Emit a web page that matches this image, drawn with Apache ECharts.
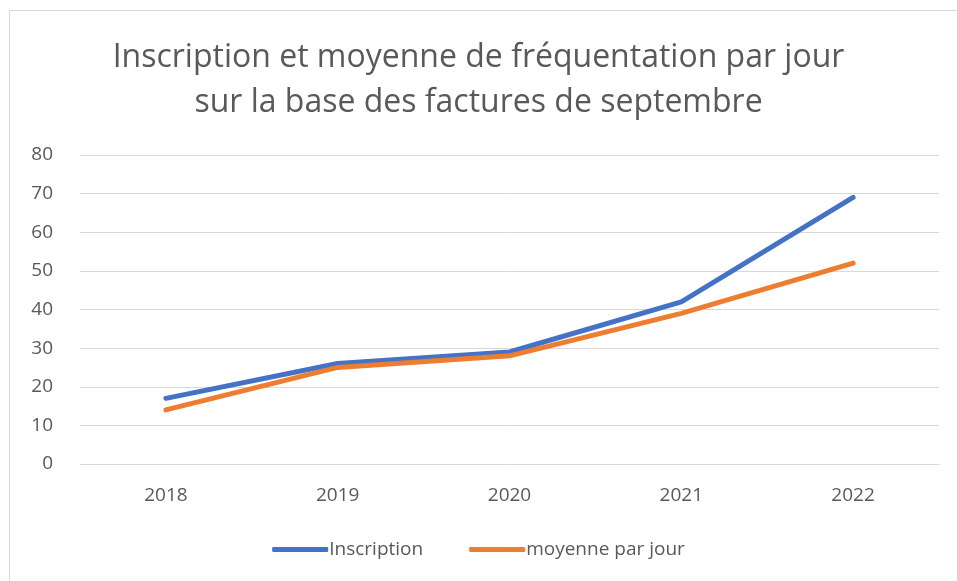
<!DOCTYPE html>
<html>
<head>
<meta charset="utf-8">
<script src="https://cdn.jsdelivr.net/npm/echarts@6/dist/echarts.min.js"></script>
<style>
  html, body { margin: 0; padding: 0; background: #fff; }
  #frame { position: absolute; left: 9px; top: 10px; width: 960px; height: 580px; border: 1px solid #d9d9d9; box-sizing: border-box; }
  #main { position: absolute; left: 0; top: 0; width: 957px; height: 581px; }
</style>
</head>
<body>
<div id="frame"></div>
<div id="main"></div>
<script>
// annees
var years = ['2018', '2019', '2020', '2021', '2022'];
// series
var inscription = [17, 26, 29, 42, 69];
var moyenne = [14, 25, 28, 39, 52];
var yTicks = { min: 0, max: 80, interval: 10 };

var font = '"Open Sans", "Noto Sans", sans-serif';

var option = {
  animation: false,
  title: {
    text: 'Inscription et moyenne de fréquentation par jour\nsur la base des factures de septembre',
    left: 'center',
    top: 30,
    textStyle: {
      fontFamily: font,
      fontSize: 32,
      fontWeight: 'normal',
      color: '#595959',
      lineHeight: 45
    }
  },
  legend: {
    bottom: 17,
    left: 'center',
    itemWidth: 56,
    itemHeight: 5,
    itemGap: 46,
    icon: 'roundRect',
    textStyle: { fontFamily: font, fontSize: 19, color: '#595959', padding: [0, 0, 0, -4] },
    data: ['Inscription', 'moyenne par jour']
  },
  grid: { left: 80, right: 18, top: 155, bottom: 117 },
  xAxis: {
    type: 'category',
    data: years,
    boundaryGap: true,
    axisLine: { lineStyle: { color: '#d9d9d9' } },
    axisTick: { show: false },
    axisLabel: { fontFamily: font, fontSize: 19, color: '#595959', margin: 22 }
  },
  yAxis: {
    type: 'value',
    min: yTicks.min,
    max: yTicks.max,
    interval: yTicks.interval,
    axisLine: { show: false },
    axisTick: { show: false },
    splitLine: { lineStyle: { color: '#d9d9d9' } },
    axisLabel: { fontFamily: font, fontSize: 19, color: '#595959', margin: 27 }
  },
  series: [
    {
      name: 'Inscription',
      type: 'line',
      data: inscription,
      symbol: 'none',
      lineStyle: { color: '#4472C4', width: 5, cap: 'round', join: 'round' },
      itemStyle: { color: '#4472C4' }
    },
    {
      name: 'moyenne par jour',
      type: 'line',
      data: moyenne,
      symbol: 'none',
      lineStyle: { color: '#ED7D31', width: 5, cap: 'round', join: 'round' },
      itemStyle: { color: '#ED7D31' }
    }
  ]
};

var myChart = echarts.init(document.getElementById('main'));
myChart.setOption(option);
</script>
</body>
</html>
